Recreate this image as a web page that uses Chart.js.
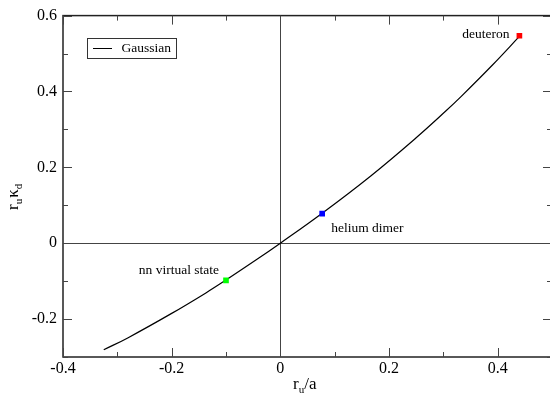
<!DOCTYPE html>
<html><head><meta charset="utf-8">
<script src="https://cdn.jsdelivr.net/npm/chart.js@4/dist/chart.umd.min.js"></script>
<style>
html,body{margin:0;padding:0;overflow:hidden;background:#fff;width:550px;height:398px}
#wrap{position:relative;width:560px;height:398px}
</style>
</head><body><div id="wrap"><canvas id="c" width="560" height="398"></canvas></div>
<script>
// Curve
const curveX = [-0.325, -0.28, -0.2, -0.137, -0.1, -0.045, 0, 0.077, 0.167, 0.25, 0.305, 0.333, 0.39, 0.44];
const curveY = [-0.281, -0.249, -0.185, -0.131, -0.097, -0.0445, 0, 0.079, 0.178, 0.278, 0.349, 0.387, 0.469, 0.545];
// Marked states
const pointNames = ['nn virtual state', 'helium dimer', 'deuteron'];
const pointX = [-0.1, 0.077, 0.44];
const pointY = [-0.098, 0.078, 0.547];
const pointColors = ['#00ff00', '#0000ff', '#ff0000'];
// Axis ticks
const xTicks = [-0.4, -0.2, 0, 0.2, 0.4];
const yTicks = [-0.2, 0, 0.2, 0.4, 0.6];
const xMinor = [-0.3, -0.1, 0.1, 0.3, 0.5];
const yMinor = [-0.3, -0.1, 0.1, 0.3, 0.5];
const seriesName = 'Gaussian';

const SERIF = '"Liberation Serif", "DejaVu Serif", serif';

const fmt = v => (Math.abs(v) < 1e-9 ? '0' : String(Math.round(v * 10) / 10));

const decor = {
  id: 'decor',
  afterDraw(chart) {
    const ctx = chart.ctx;
    const xs = chart.scales.x, ys = chart.scales.y;
    const a = chart.chartArea;
    ctx.save();
    // frame
    ctx.strokeStyle = '#222';
    ctx.lineWidth = 1.5;
    ctx.strokeRect(a.left, a.top, a.right - a.left, a.bottom - a.top);
    // inward ticks
    ctx.strokeStyle = '#444';
    ctx.lineWidth = 1;
    const tx = (vals, len) => vals.forEach(v => {
      const p = Math.round(xs.getPixelForValue(v)) + 0.5;
      ctx.beginPath();
      ctx.moveTo(p, a.bottom); ctx.lineTo(p, a.bottom - len);
      ctx.moveTo(p, a.top); ctx.lineTo(p, a.top + len);
      ctx.stroke();
    });
    const ty = (vals, len) => vals.forEach(v => {
      const p = Math.round(ys.getPixelForValue(v)) + 0.5;
      ctx.beginPath();
      ctx.moveTo(a.left, p); ctx.lineTo(a.left + len, p);
      ctx.moveTo(a.right, p); ctx.lineTo(a.right - len, p);
      ctx.stroke();
    });
    tx(xTicks, 9); tx(xMinor, 5);
    ty(yTicks, 9); ty(yMinor, 5);

    // point labels
    ctx.fillStyle = '#000';
    ctx.font = '13.5px ' + SERIF;
    ctx.textBaseline = 'middle';
    const offs = [[-7, -10, 'right'], [9, 14.5, 'left'], [-10, -1, 'right']];
    pointNames.forEach((n, i) => {
      const px = xs.getPixelForValue(pointX[i]);
      const py = ys.getPixelForValue(pointY[i]);
      ctx.textAlign = offs[i][2];
      ctx.fillText(n, px + offs[i][0], py + offs[i][1]);
    });

    // legend
    ctx.strokeStyle = '#333';
    ctx.lineWidth = 1;
    ctx.strokeRect(87.5, 38.5, 89, 20);
    ctx.strokeStyle = '#000';
    ctx.beginPath(); ctx.moveTo(93, 48.5); ctx.lineTo(112, 48.5); ctx.stroke();
    ctx.textAlign = 'left';
    ctx.fillText(seriesName, 121.5, 48.5);

    // x title r_u/a
    ctx.textBaseline = 'alphabetic';
    const big = '17px ' + SERIF, small = '11px ' + SERIF;
    let x = 293, by = 389;
    ctx.font = big; ctx.fillText('r', x, by); x += ctx.measureText('r').width;
    ctx.font = small; ctx.fillText('u', x, by + 4); x += ctx.measureText('u').width;
    ctx.font = big; ctx.fillText('/a', x, by);

    // y title r_u kappa_d (rotated)
    ctx.translate(18, 210);
    ctx.rotate(-Math.PI / 2);
    x = 0;
    ctx.font = big; ctx.fillText('r', x, 0); x += ctx.measureText('r').width;
    ctx.font = small; ctx.fillText('u', x, 4); x += ctx.measureText('u').width + 1;
    ctx.font = big; ctx.fillText('\u03BA', x, 0); x += ctx.measureText('\u03BA').width;
    ctx.font = small; ctx.fillText('d', x, 4);
    ctx.restore();
  }
};

new Chart(document.getElementById('c'), {
  type: 'scatter',
  data: {
    datasets: [
      {
        label: seriesName,
        data: curveX.map((v, i) => ({ x: v, y: curveY[i] })),
        showLine: true,
        borderColor: '#000',
        borderWidth: 1.2,
        pointRadius: 0,
        tension: 0.4,
        order: 2
      },
      {
        label: 'states',
        data: pointX.map((v, i) => ({ x: v, y: pointY[i] })),
        pointStyle: 'rect',
        pointRadius: 4,
        borderWidth: 0,
        backgroundColor: pointColors,
        pointBackgroundColor: pointColors,
        order: 1
      }
    ]
  },
  options: {
    responsive: false,
    devicePixelRatio: 1,
    animation: false,
    layout: { padding: { top: 14, right: 8, left: 0, bottom: 0 } },
    plugins: { legend: { display: false }, tooltip: { enabled: false } },
    scales: {
      x: {
        type: 'linear', min: -0.4, max: 0.5,
        afterBuildTicks: s => { s.ticks = xTicks.map(v => ({ value: v })); },
        afterFit: s => { s.height = 41; },
        ticks: { callback: v => fmt(v), color: '#000', font: { family: SERIF, size: 16 }, padding: 2, maxRotation: 0, autoSkip: false },
        grid: { drawTicks: false, color: c => (c.tick && Math.abs(c.tick.value) < 1e-9 ? '#444' : 'rgba(0,0,0,0)'), lineWidth: 1 },
        border: { display: false }
      },
      y: {
        type: 'linear', min: -0.3, max: 0.6,
        afterBuildTicks: s => { s.ticks = yTicks.map(v => ({ value: v })); },
        afterFit: s => { s.width = 63; },
        ticks: { callback: v => fmt(v), color: '#000', font: { family: SERIF, size: 16 }, padding: 6, autoSkip: false },
        grid: { drawTicks: false, color: c => (c.tick && Math.abs(c.tick.value) < 1e-9 ? '#444' : 'rgba(0,0,0,0)'), lineWidth: 1 },
        border: { display: false }
      }
    }
  },
  plugins: [decor]
});
</script>
</body></html>
